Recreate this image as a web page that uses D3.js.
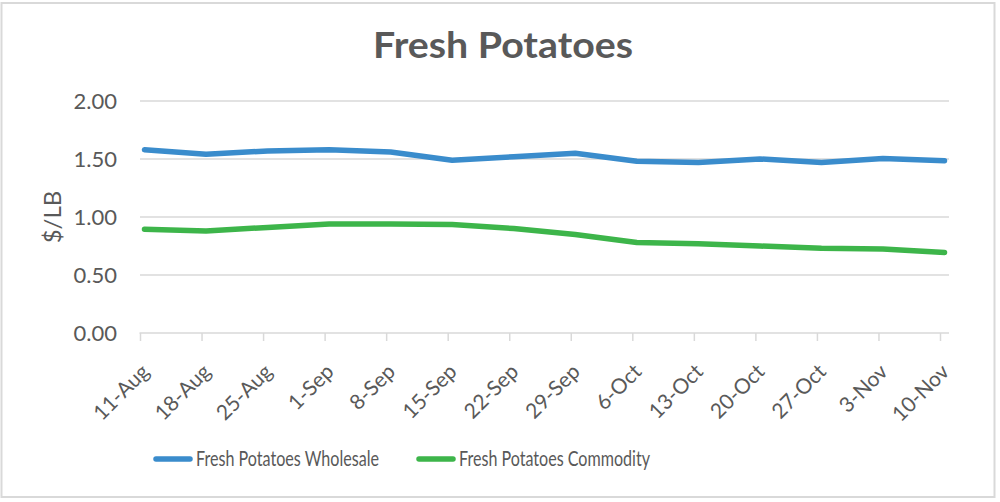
<!DOCTYPE html>
<html><head><meta charset="utf-8">
<script src="https://cdn.jsdelivr.net/npm/d3@7"></script>
<style>
body{margin:0;background:#fff;}
text{font-family:Lato,"Open Sans",sans-serif;}
</style></head>
<body>
<svg id="c" width="1000" height="502"></svg>
<script>
const categories = ["11-Aug","18-Aug","25-Aug","1-Sep","8-Sep","15-Sep","22-Sep","29-Sep","6-Oct","13-Oct","20-Oct","27-Oct","3-Nov","10-Nov"];
const wholesale = [1.58,1.54,1.57,1.58,1.56,1.49,1.52,1.55,1.48,1.47,1.50,1.47,1.505,1.485];
const commodity = [0.895,0.88,0.91,0.94,0.94,0.935,0.90,0.85,0.78,0.77,0.75,0.73,0.725,0.695];
const yTicks = [0,0.5,1,1.5,2];
const seriesNames = ["Fresh Potatoes Wholesale","Fresh Potatoes Commodity"];
const colors = ["#3a8ccc","#3db54a"];

const svg = d3.select("#c");
const grey = "#595959";
svg.append("rect").attr("x",1.5).attr("y",3).attr("width",993).attr("height",494)
  .attr("fill","#fff").attr("stroke","#d9d9d9").attr("stroke-width",2);

svg.append("text").attr("x",373).attr("y",58)
  .attr("font-size",36).attr("font-weight","bold").attr("fill",grey)
  .attr("textLength",260).attr("lengthAdjust","spacingAndGlyphs").text("Fresh Potatoes");

const x = d3.scalePoint().domain(categories).range([144.5,944.5]);
const y = d3.scaleLinear().domain([0,2]).range([333,101]);

// gridlines
svg.append("g").selectAll("line").data(yTicks.filter(d=>d>0)).join("line")
  .attr("x1",140).attr("x2",949).attr("y1",d=>y(d)).attr("y2",d=>y(d))
  .attr("stroke","#d9d9d9").attr("stroke-width",1.5);

// y labels
svg.append("g").selectAll("text").data(yTicks).join("text")
  .attr("x",117).attr("y",d=>y(d)).attr("dy","0.36em").attr("text-anchor","end")
  .attr("font-size",22).attr("fill",grey).text(d=>d3.format(".2f")(d));

svg.append("text").attr("transform","translate(61,217) rotate(-90)").attr("text-anchor","middle")
  .attr("font-size",24).attr("fill",grey).text("$/LB");

// x axis
const xAxis = d3.axisBottom(x).tickSize(8).tickSizeOuter(0);
const gx = svg.append("g").attr("transform","translate(-4.5,333)").call(xAxis);
gx.select(".domain").remove();
gx.append("line").attr("x1",144).attr("x2",953.5).attr("y1",0).attr("y2",0).attr("stroke","#d9d9d9").attr("stroke-width",1.5);
gx.selectAll(".tick line").attr("stroke","#d9d9d9").attr("stroke-width",1.5);
gx.selectAll(".tick text").attr("font-size",21).attr("fill",grey)
  .attr("font-family","Lato,'Open Sans',sans-serif")
  .attr("text-anchor","end").attr("dy",0).attr("y",0)
  .attr("transform","translate(10,40) rotate(-45)");

const line = d3.line().x((d,i)=>x(categories[i])).y(d=>y(d));
[wholesale,commodity].forEach((s,k)=>{
  svg.append("path").datum(s).attr("d",line).attr("fill","none")
    .attr("stroke",colors[k]).attr("stroke-width",5.5).attr("stroke-linecap","round").attr("stroke-linejoin","round");
});

// legend
const legX = [156,419];
const legLen = [183,191];
seriesNames.forEach((n,k)=>{
  const g = svg.append("g");
  g.append("line").attr("x1",legX[k]).attr("x2",legX[k]+34).attr("y1",459).attr("y2",459)
    .attr("stroke",colors[k]).attr("stroke-width",5.5).attr("stroke-linecap","round");
  g.append("text").attr("x",legX[k]+40).attr("y",466)
    .attr("font-size",22).attr("fill",grey)
    .attr("textLength",legLen[k]).attr("lengthAdjust","spacingAndGlyphs").text(n);
});
</script>
</body></html>
